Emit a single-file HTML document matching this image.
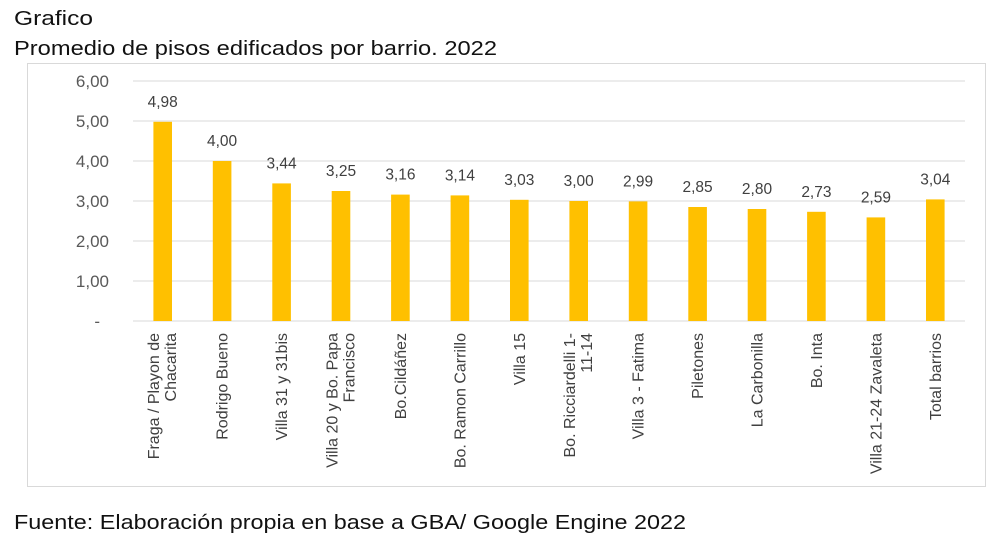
<!DOCTYPE html>
<html><head><meta charset="utf-8"><style>
body{margin:0;background:#fff;width:1000px;height:546px;overflow:hidden;font-family:"Liberation Sans",sans-serif}
</style></head><body>
<svg width="1000" height="546" xmlns="http://www.w3.org/2000/svg" font-family="Liberation Sans, sans-serif">
<text x="14" y="25" font-size="20" fill="#111" textLength="79" lengthAdjust="spacingAndGlyphs">Grafico</text>
<text x="14" y="55" font-size="20" fill="#111" textLength="483" lengthAdjust="spacingAndGlyphs">Promedio de pisos edificados por barrio. 2022</text>
<rect x="27.5" y="63.5" width="958" height="423" fill="none" stroke="#d9d9d9" stroke-width="1"/>
<g stroke="#d9d9d9" stroke-width="1">
<line x1="133" x2="965" y1="81" y2="81"/><line x1="133" x2="965" y1="121" y2="121"/>
<line x1="133" x2="965" y1="161" y2="161"/><line x1="133" x2="965" y1="201" y2="201"/>
<line x1="133" x2="965" y1="241" y2="241"/><line x1="133" x2="965" y1="281" y2="281"/>
<line x1="133" x2="965" y1="321" y2="321"/>
</g>
<g font-size="17" fill="#595959" text-anchor="end">
<text x="109" y="87">6,00</text><text x="109" y="127">5,00</text><text x="109" y="167">4,00</text>
<text x="109" y="207">3,00</text><text x="109" y="247">2,00</text><text x="109" y="287">1,00</text>
<text x="100" y="327">-</text>
</g>
<g fill="#ffc000">
<rect x="153.4" y="121.8" width="18.6" height="199.2"/>
<rect x="212.8" y="161" width="18.6" height="160"/>
<rect x="272.3" y="183.4" width="18.6" height="137.6"/>
<rect x="331.7" y="191" width="18.6" height="130"/>
<rect x="391.1" y="194.6" width="18.6" height="126.4"/>
<rect x="450.6" y="195.4" width="18.6" height="125.6"/>
<rect x="510" y="199.8" width="18.6" height="121.2"/>
<rect x="569.4" y="201" width="18.6" height="120"/>
<rect x="628.8" y="201.4" width="18.6" height="119.6"/>
<rect x="688.3" y="207" width="18.6" height="114"/>
<rect x="747.7" y="209" width="18.6" height="112"/>
<rect x="807.1" y="211.8" width="18.6" height="109.2"/>
<rect x="866.6" y="217.4" width="18.6" height="103.6"/>
<rect x="926" y="199.4" width="18.6" height="121.6"/>
</g>
<g font-size="15.5" fill="#404040" text-anchor="middle">
<text x="162.7" y="106.8">4,98</text>
<text x="222.1" y="146">4,00</text>
<text x="281.6" y="168.4">3,44</text>
<text x="341" y="176">3,25</text>
<text x="400.4" y="179.6">3,16</text>
<text x="459.9" y="180.4">3,14</text>
<text x="519.3" y="184.8">3,03</text>
<text x="578.7" y="186">3,00</text>
<text x="638.1" y="186.4">2,99</text>
<text x="697.6" y="192">2,85</text>
<text x="757" y="194">2,80</text>
<text x="816.4" y="196.8">2,73</text>
<text x="875.9" y="202.4">2,59</text>
<text x="935.3" y="184.4">3,04</text>
</g>
<g font-size="16" fill="#404040" text-anchor="end">
<text transform="translate(159.2,333) rotate(-90)">Fraga / Playon de</text>
<text transform="translate(176.2,333) rotate(-90)">Chacarita</text>
<text transform="translate(227.6,333) rotate(-90)">Rodrigo Bueno</text>
<text transform="translate(287.1,333) rotate(-90)">Villa 31 y 31bis</text>
<text transform="translate(337.5,333) rotate(-90)">Villa 20 y Bo. Papa</text>
<text transform="translate(354.5,333) rotate(-90)">Francisco</text>
<text transform="translate(405.9,333) rotate(-90)">Bo.Cildáñez</text>
<text transform="translate(465.4,333) rotate(-90)">Bo. Ramon Carrillo</text>
<text transform="translate(524.8,333) rotate(-90)">Villa 15</text>
<text transform="translate(575.2,333) rotate(-90)">Bo. Ricciardelli 1-</text>
<text transform="translate(592.2,333) rotate(-90)">11-14</text>
<text transform="translate(643.6,333) rotate(-90)">Villa 3 - Fatima</text>
<text transform="translate(703.1,333) rotate(-90)">Piletones</text>
<text transform="translate(762.5,333) rotate(-90)">La Carbonilla</text>
<text transform="translate(821.9,333) rotate(-90)">Bo. Inta</text>
<text transform="translate(881.4,333) rotate(-90)">Villa 21-24 Zavaleta</text>
<text transform="translate(940.8,333) rotate(-90)">Total barrios</text>
</g>
<text x="14" y="529" font-size="20" fill="#111" textLength="672" lengthAdjust="spacingAndGlyphs">Fuente: Elaboración propia en base a GBA/ Google Engine 2022</text>
</svg>
</body></html>
